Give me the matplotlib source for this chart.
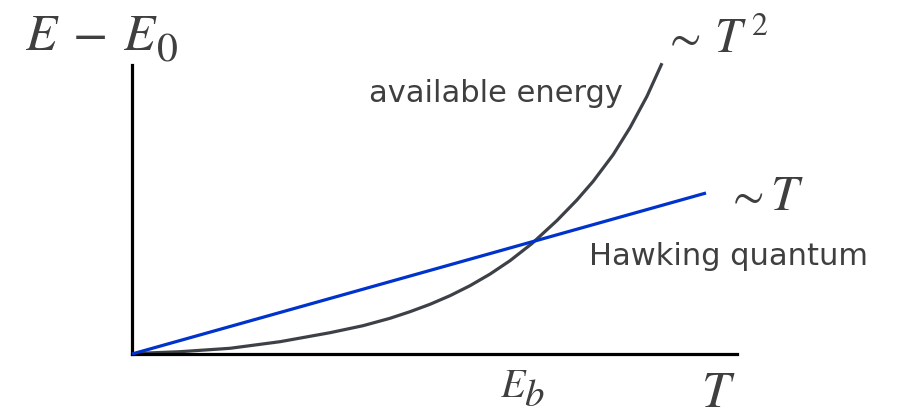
import matplotlib.pyplot as plt

# curves (T, E), arbitrary units
temp_quad = [0.0, 0.08, 0.48, 0.98, 1.48, 1.98, 2.31, 2.58, 2.78, 2.98, 3.18, 3.38,
             3.58, 3.78, 4.00, 4.25, 4.45, 4.61, 4.81, 4.98, 5.15, 5.30]
energy_quad = [0.0, 0.007, 0.023, 0.057, 0.123, 0.213, 0.283, 0.357, 0.423, 0.497, 0.583, 0.683,
               0.799, 0.933, 1.105, 1.335, 1.541, 1.725, 1.991, 2.263, 2.578, 2.908]
temp_lin = [0.0, 5.74]
energy_lin = [0.0, 1.61]

curve_col = '#3d4147'
blue_col = '#0033cc'
text_col = '#3f3f3f'

W, H = 901, 413
fig = plt.figure(figsize=(W / 100, H / 100), dpi=100)
ax = fig.add_axes([132 / W, 59 / H, 605 / W, 289 / H])

ax.plot(temp_lin, energy_lin, color=blue_col, lw=2.3, clip_on=False, zorder=3,
        solid_capstyle='butt')
ax.plot(temp_quad, energy_quad, color=curve_col, lw=2.3, clip_on=False, zorder=2,
        solid_capstyle='butt', solid_joinstyle='round')

ax.set_xlim(0, 6.05)
ax.set_ylim(0, 2.89)
ax.set_xticks([])
ax.set_yticks([])
for s in ['top', 'right']:
    ax.spines[s].set_visible(False)
for s in ['left', 'bottom']:
    ax.spines[s].set_linewidth(2.3)
    ax.spines[s].set_color('black')


def put(x, y, s, size, italic=True):
    # x, y in pixels from top-left, y = baseline
    fig.text(x / W, 1 - y / H, s, fontsize=size, color=text_col,
             family='STIXGeneral', style='italic' if italic else 'normal',
             va='baseline', ha='left')


# E - E_0
put(25, 50, 'E', 37)
put(73, 50, '\u2212', 37, italic=False)
put(123, 50, 'E', 37)
put(157, 61, '0', 30, italic=False)

# ~ T^2
put(670, 52, '\u223c', 33, italic=False)
put(714, 52, 'T', 35)
put(751, 35, '2', 23, italic=False)

# ~ T
put(733, 210, '\u223c', 33, italic=False)
put(770, 210, 'T', 36)

# axis labels
put(702, 407, 'T', 37)
put(500, 397, 'E', 29)
put(524, 406, 'b', 28)

fig.text(369 / W, 1 - 102 / H, 'available energy', fontsize=22, color=text_col,
         va='baseline', ha='left')
fig.text(589 / W, 1 - 265 / H, 'Hawking quantum', fontsize=22, color=text_col,
         va='baseline', ha='left')

fig.savefig('out.png', dpi=100)
